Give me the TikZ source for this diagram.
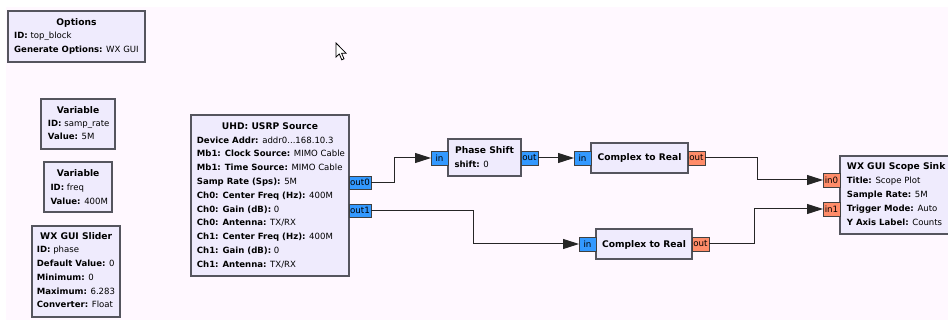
\documentclass[tikz,border=0pt]{standalone}
\usepackage{fontspec}
\setmainfont{DejaVu Sans}
\usetikzlibrary{arrows.meta}
\definecolor{bgc}{HTML}{FFF8FF}
\definecolor{blkfill}{HTML}{EFEBFD}
\definecolor{blkline}{HTML}{55555E}
\definecolor{portblue}{HTML}{3399FF}
\definecolor{portorange}{HTML}{FF8C69}
\tikzset{
  blk/.style={draw=blkline, fill=blkfill, line width=1.2pt, rectangle, inner sep=0pt, outer sep=0pt, anchor=north west},
  portb/.style={draw=black!75, fill=portblue, line width=0.8pt, rectangle, inner sep=0pt, outer sep=0pt, anchor=north west, minimum height=14pt, font=\fontsize{8.7}{10}\selectfont},
  porto/.style={portb, fill=portorange},
  ttl/.style={anchor=base, inner sep=0pt, font=\fontsize{9.15}{10}\selectfont\bfseries},
  lbl/.style={anchor=base west, inner sep=0pt},
  wire/.style={draw=black!85, line width=1pt},
  arr/.style={wire, -{Triangle[length=16pt,width=10pt]}},
}
\begin{document}
\begin{tikzpicture}[x=1pt,y=-1pt, font=\fontsize{8.55}{10}\selectfont]
\fill[white] (0,0) rectangle (948,320);
\fill[bgc] (6,7) rectangle (948,320);
\useasboundingbox (0,0) rectangle (948,320);
\clip (0,0) rectangle (948,320);

% Options
\node[blk, minimum width=137pt, minimum height=51pt] (opt) at (8,11) {};
\node[ttl] (optt) at (76.5,25.5) {Options};
\node[lbl] (opt1) at (14,38.2) {\textbf{ID:} top\_block};
\node[lbl] (opt2) at (14,52.5) {\textbf{Generate Options:} WX GUI};

% Variable samp_rate
\node[blk, minimum width=74pt, minimum height=50pt] (var1) at (41,99) {};
\node[ttl] (var1t) at (78,113.2) {Variable};
\node[lbl] (var1a) at (47.7,126.5) {\textbf{ID:} samp\_rate};
\node[lbl] (var1b) at (47.7,139.9) {\textbf{Value:} 5M};

% Variable freq
\node[blk, minimum width=68pt, minimum height=50pt] (var2) at (44,162) {};
\node[ttl] (var2t) at (78.2,176.5) {Variable};
\node[lbl] (var2a) at (50.3,190.5) {\textbf{ID:} freq};
\node[lbl] (var2b) at (50.3,204.2) {\textbf{Value:} 400M};

% WX GUI Slider
\node[blk, minimum width=88pt, minimum height=91pt] (sld) at (32,226) {};
\node[ttl] (sldt) at (76.2,239.9) {WX GUI Slider};
\node[lbl] (sld1) at (36.7,252.5) {\textbf{ID:} phase};
\node[lbl] (sld2) at (36.7,266.5) {\textbf{Default Value:} 0};
\node[lbl] (sld3) at (36.7,280.5) {\textbf{Minimum:} 0};
\node[lbl] (sld4) at (36.7,294.2) {\textbf{Maximum:} 6.283};
\node[lbl] (sld5) at (36.7,307.9) {\textbf{Converter:} Float};

% USRP Source
\node[blk, minimum width=158pt, minimum height=161pt] (usrp) at (191,115) {};
\node[ttl] (usrpt) at (270,129.2) {UHD: USRP Source};
\node[lbl] (u1) at (196.7,143.2) {\textbf{Device Addr:} addr0...168.10.3};
\node[lbl] (u2) at (196.7,157.0) {\textbf{Mb1: Clock Source:} MIMO Cable};
\node[lbl] (u3) at (196.7,170.8) {\textbf{Mb1: Time Source:} MIMO Cable};
\node[lbl] (u4) at (196.7,184.6) {\textbf{Samp Rate (Sps):} 5M};
\node[lbl] (u5) at (196.7,198.4) {\textbf{Ch0: Center Freq (Hz):} 400M};
\node[lbl] (u6) at (196.7,212.2) {\textbf{Ch0: Gain (dB):} 0};
\node[lbl] (u7) at (196.7,226.0) {\textbf{Ch0: Antenna:} TX/RX};
\node[lbl] (u8) at (196.7,239.8) {\textbf{Ch1: Center Freq (Hz):} 400M};
\node[lbl] (u9) at (196.7,253.6) {\textbf{Ch1: Gain (dB):} 0};
\node[lbl] (u10) at (196.7,267.4) {\textbf{Ch1: Antenna:} TX/RX};
\node[portb, minimum width=22pt, minimum height=13pt] (out0) at (349,176) {out0};
\node[portb, minimum width=22pt, minimum height=13pt] (out1) at (349,204) {out1};

% Phase Shift
\node[blk, minimum width=73pt, minimum height=37pt] (ps) at (448,139) {};
\node[ttl] (pst) at (484.5,153.9) {Phase Shift};
\node[lbl] (ps1) at (454.3,167.5) {\textbf{shift:} 0};
\node[portb, minimum width=17pt] (psin) at (431,151) {in};
\node[portb, minimum width=17pt] (psout) at (521,151) {out};

% Complex to Real (top)
\node[blk, minimum width=97pt, minimum height=30pt] (c2r1) at (591,143) {};
\node[ttl] (c2r1t) at (639.5,160.7) {Complex to Real};
\node[portb, minimum width=17pt] (c1in) at (574,151) {in};
\node[porto, minimum width=17pt] (c1out) at (688,151) {out};

% Complex to Real (bottom)
\node[blk, minimum width=96pt, minimum height=30pt] (c2r2) at (596,229) {};
\node[ttl] (c2r2t) at (644,247.2) {Complex to Real};
\node[portb, minimum width=17pt] (c2in) at (579,237) {in};
\node[porto, minimum width=17pt] (c2out) at (692,237) {out};

% Scope Sink
\node[blk, minimum width=114pt, minimum height=78pt] (scope) at (840,156) {};
\node[lbl, font=\fontsize{9.15}{10}\selectfont\bfseries] (scopet) at (846.7,169.9) {WX GUI Scope Sink};
\node[lbl] (sc1) at (846.7,183.9) {\textbf{Title:} Scope Plot};
\node[lbl] (sc2) at (846.7,197.2) {\textbf{Sample Rate:} 5M};
\node[lbl] (sc3) at (846.7,211.5) {\textbf{Trigger Mode:} Auto};
\node[lbl] (sc4) at (846.7,225.2) {\textbf{Y Axis Label:} Counts};
\node[porto, minimum width=17pt] (in0) at (823,173) {in0};
\node[porto, minimum width=17pt] (in1) at (823,202) {in1};

% connections
\coordinate (k1) at (394,0);
\coordinate (k2) at (473,0);
\coordinate (k3) at (757,0);
\coordinate (k4) at (754,0);
\draw[arr] (out0.east) -| (k1 |- psin.west) -- (psin.west);
\draw[arr] (psout.east) -- (c1in.west);
\draw[arr] (out1.east) -| (k2 |- c2in.west) -- (c2in.west);
\draw[arr] (c1out.east) -| (k3 |- in0.west) -- (in0.west);
\draw[arr] (c2out.east) -| (k4 |- in1.west) -- (in1.west);

% mouse pointer
\draw[fill=white, line width=0.8pt, line join=miter]
  (336,43) -- (336,57) -- (339.3,54) -- (341.8,59.8) -- (344,58.8) -- (341.6,53.2) -- (346,53.2) -- cycle;
\end{tikzpicture}
\end{document}
